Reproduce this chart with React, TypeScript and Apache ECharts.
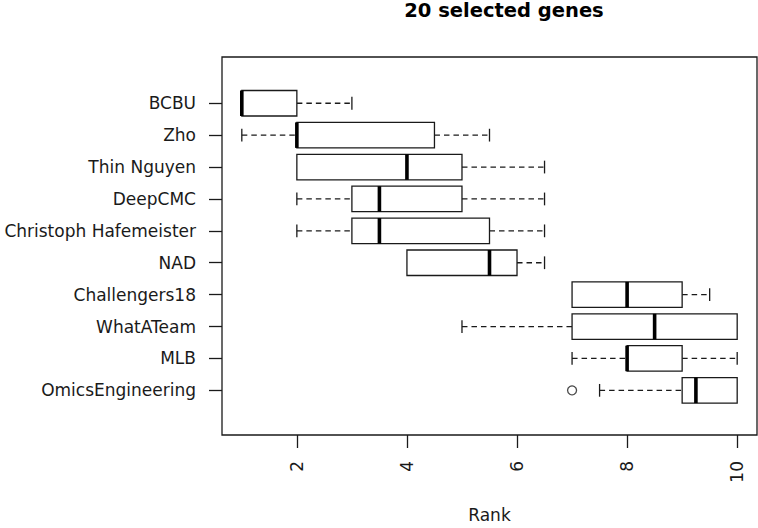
import React, { useEffect, useRef } from "react";
import * as echarts from "echarts";

const categories = [
  "BCBU",
  "Zho",
  "Thin Nguyen",
  "DeepCMC",
  "Christoph Hafemeister",
  "NAD",
  "Challengers18",
  "WhatATeam",
  "MLB",
  "OmicsEngineering",
];
const whiskerLow = [1, 1, 2, 2, 2, 4, 7, 5, 7, 7.5];
const q1 = [1, 2, 2, 3, 3, 4, 7, 7, 8, 9];
const median = [1, 2, 4, 3.5, 3.5, 5.5, 8, 8.5, 8, 9.25];
const q3 = [2, 4.5, 5, 5, 5.5, 6, 9, 10, 9, 10];
const whiskerHigh = [3, 5.5, 6.5, 6.5, 6.5, 6.5, 9.5, 10, 10, 10];
const outlierCategories = ["OmicsEngineering"];
const outlierValues = [7];
const xTicks = [2, 4, 6, 8, 10];

const FONT = "DejaVu Sans";
const INK = "#1a1a1a";

export default function App() {
  const ref = useRef<HTMLDivElement>(null);
  useEffect(() => {
    if (!ref.current) return;
    const chart = echarts.init(ref.current, null, { renderer: "svg" });
    const boxData = categories.map((_, i) => [
      i,
      whiskerLow[i],
      q1[i],
      median[i],
      q3[i],
      whiskerHigh[i],
    ]);
    const outlierData = outlierCategories.map((c, k) => [
      outlierValues[k],
      categories.indexOf(c),
    ]);
    const catIdx = categories.map((_, i) => i);
    const lineStyle = { stroke: INK, lineWidth: 1.3 };
    const dashStyle = { stroke: INK, lineWidth: 1.3, lineDash: [5.5, 4] };

    chart.setOption({
      animation: false,
      backgroundColor: "#ffffff",
      grid: {
        left: 222,
        top: 57,
        width: 535,
        height: 378,
        show: true,
        borderColor: INK,
        borderWidth: 1.3,
        backgroundColor: "transparent",
        containLabel: false,
        outerBoundsMode: "none",
      },
      graphic: [
        {
          type: "text",
          x: 504,
          y: 10.6,
          style: {
            text: "20 selected genes",
            fontFamily: FONT,
            fontWeight: "bold",
            fontSize: 19.5,
            fill: "#000",
            textAlign: "center",
            textVerticalAlign: "middle",
          },
        },
      ],
      xAxis: {
        type: "value",
        position: "bottom",
        min: 0.64,
        max: 10.36,
        name: "Rank",
        nameLocation: "middle",
        nameGap: 71,
        nameTextStyle: { fontFamily: FONT, fontSize: 17, color: INK },
        axisLine: { show: false, onZero: false },
        splitLine: { show: false },
        axisTick: {
          show: true,
          length: 13,
          customValues: xTicks,
          lineStyle: { color: INK, width: 1.3 },
        },
        axisLabel: {
          rotate: 90,
          margin: 26,
          customValues: xTicks,
          fontFamily: FONT,
          fontSize: 17,
          color: INK,
        },
      },
      yAxis: {
        type: "value",
        position: "left",
        inverse: true,
        min: -1.45,
        max: 10.4,
        axisLine: { show: false, onZero: false },
        splitLine: { show: false },
        axisTick: {
          show: true,
          length: 13,
          customValues: catIdx,
          lineStyle: { color: INK, width: 1.3 },
        },
        axisLabel: {
          margin: 26,
          customValues: catIdx,
          formatter: (v: number) => categories[Math.round(v)] ?? "",
          fontFamily: FONT,
          fontSize: 17,
          color: INK,
        },
      },
      series: [
        {
          type: "custom",
          coordinateSystem: "cartesian2d",
          encode: { x: [1, 2, 3, 4, 5], y: 0 },
          data: boxData,
          renderItem: (params: any, api: any) => {
            const i = api.value(0);
            const lo = api.value(1);
            const a = api.value(2);
            const m = api.value(3);
            const b = api.value(4);
            const hi = api.value(5);
            const pLo = api.coord([lo, i]);
            const pA = api.coord([a, i]);
            const pM = api.coord([m, i]);
            const pB = api.coord([b, i]);
            const pHi = api.coord([hi, i]);
            const h = api.size([0, 0.8])[1];
            const c = api.size([0, 0.4])[1];
            const y = pA[1];
            const children: any[] = [];
            if (lo < a) {
              children.push({
                type: "line",
                shape: { x1: pLo[0], y1: y, x2: pA[0], y2: y },
                style: dashStyle,
              });
              children.push({
                type: "line",
                shape: { x1: pLo[0], y1: y - c / 2, x2: pLo[0], y2: y + c / 2 },
                style: lineStyle,
              });
            }
            if (hi > b) {
              children.push({
                type: "line",
                shape: { x1: pB[0], y1: y, x2: pHi[0], y2: y },
                style: dashStyle,
              });
              children.push({
                type: "line",
                shape: { x1: pHi[0], y1: y - c / 2, x2: pHi[0], y2: y + c / 2 },
                style: lineStyle,
              });
            }
            children.push({
              type: "rect",
              shape: { x: pA[0], y: y - h / 2, width: pB[0] - pA[0], height: h },
              style: { fill: "#ffffff", stroke: INK, lineWidth: 1.3 },
            });
            children.push({
              type: "line",
              shape: { x1: pM[0], y1: y - h / 2, x2: pM[0], y2: y + h / 2 },
              style: { stroke: "#000", lineWidth: 3.6 },
            });
            return { type: "group", children };
          },
        },
        {
          type: "scatter",
          data: outlierData,
          symbol: "circle",
          symbolSize: 9,
          itemStyle: { color: "#ffffff", borderColor: INK, borderWidth: 1.3 },
        },
      ],
    });
    return () => chart.dispose();
  }, []);
  return (
    <div
      ref={ref}
      style={{ position: "absolute", left: 0, top: 0, width: 758, height: 528 }}
    />
  );
}
